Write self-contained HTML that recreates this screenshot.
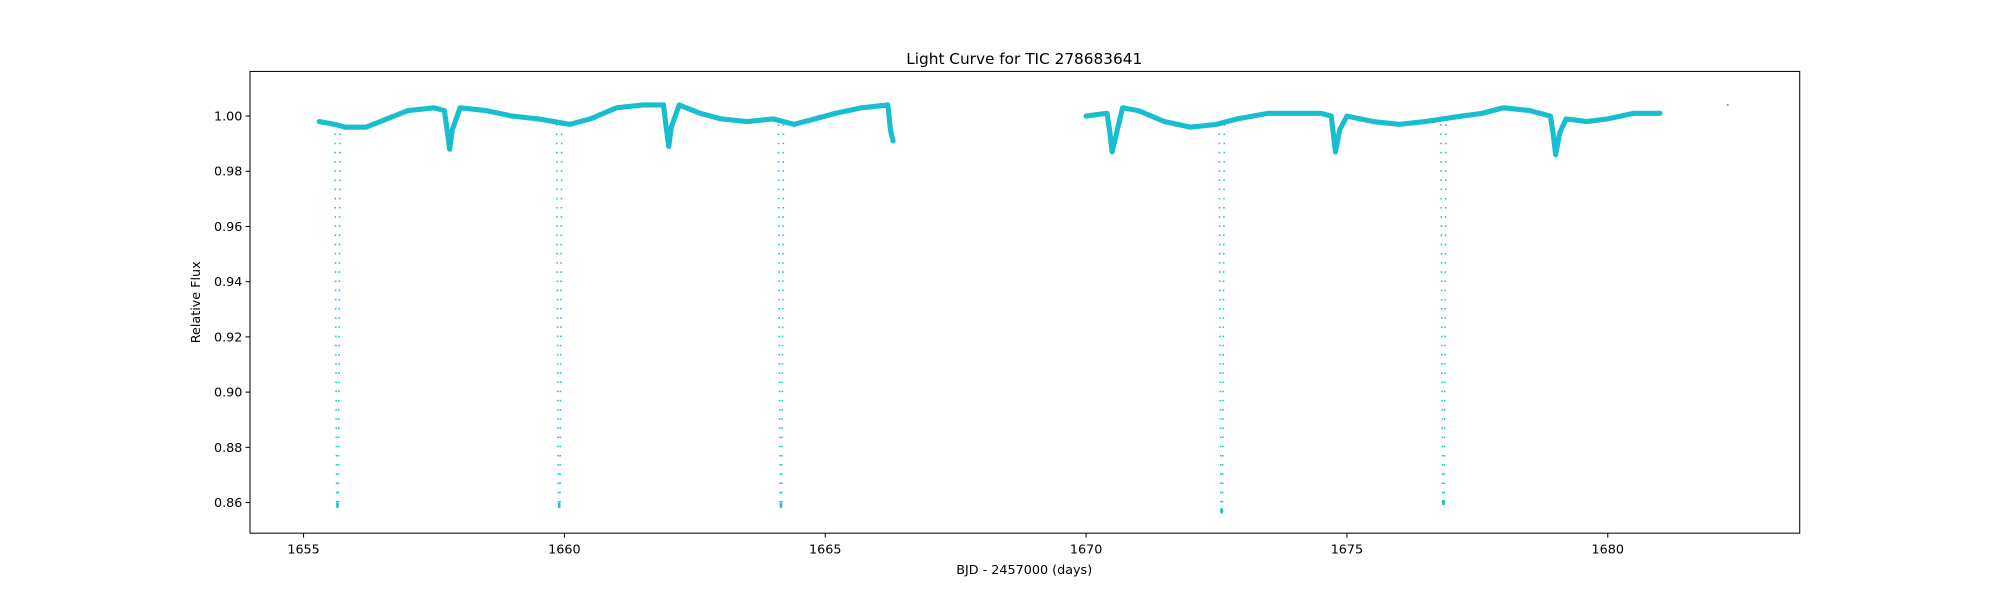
<!DOCTYPE html>
<html><head><meta charset="utf-8"><style>
body{margin:0;background:#fff;}
svg{display:block;font-family:"DejaVu Sans","Liberation Sans",sans-serif;}
</style></head><body>
<svg id="chart" width="2000" height="600">
<rect width="2000" height="600" fill="#fff"/>
<g transform="scale(1.2755)">
<text x="803" y="50" font-size="12" text-anchor="middle">Light Curve for TIC 278683641</text>
<g id="marks"></g>
<g id="axes"></g>
<text x="803" y="450" font-size="10" text-anchor="middle">BJD - 2457000 (days)</text>
<text x="157" y="237" font-size="10" text-anchor="middle" transform="rotate(-90 157 237)">Relative Flux</text>
</g>
</svg>
<script>
const seg1Times=[1655.3,1655.6,1655.8,1656.2,1656.6,1657.0,1657.5,1657.7,1657.75,1657.8,1657.85,1658.0,1658.5,1659.0,1659.5,1659.8,1660.1,1660.5,1661.0,1661.5,1661.9,1661.95,1662.0,1662.05,1662.2,1662.6,1663.0,1663.5,1664.0,1664.4,1664.8,1665.2,1665.7,1666.2,1666.25,1666.3];
const seg1Flux=[0.998,0.997,0.996,0.996,0.999,1.002,1.003,1.002,0.995,0.988,0.995,1.003,1.002,1.000,0.999,0.998,0.997,0.999,1.003,1.004,1.004,0.996,0.989,0.996,1.004,1.001,0.999,0.998,0.999,0.997,0.999,1.001,1.003,1.004,0.995,0.991];
const seg2Times=[1670.0,1670.4,1670.45,1670.5,1670.6,1670.7,1671.0,1671.5,1672.0,1672.5,1672.9,1673.5,1674.0,1674.5,1674.7,1674.78,1674.86,1675.0,1675.5,1676.0,1676.5,1677.2,1677.6,1678.0,1678.5,1678.9,1678.95,1679.0,1679.08,1679.2,1679.6,1680.0,1680.5,1681.0];
const seg2Flux=[1.000,1.001,0.995,0.987,0.995,1.003,1.002,0.998,0.996,0.997,0.999,1.001,1.001,1.001,1.000,0.987,0.995,1.000,0.998,0.997,0.998,1.000,1.001,1.003,1.002,1.000,0.994,0.986,0.994,0.999,0.998,0.999,1.001,1.001];
const primaryTimes=[1655.65,1659.9,1664.15,1672.6,1676.85];
const primaryDepths=[0.859,0.859,0.859,0.857,0.860];
const outlierTimes=[1682.3];
const outlierFlux=[1.004];
const xTicks=[1655,1660,1665,1670,1675,1680];
const yTicks=[0.86,0.88,0.90,0.92,0.94,0.96,0.98,1.00];

const L=196,R=1411,T=56,B=418;
const xs=t=>238+(t-1655)*40.9;
const ys=f=>91+(1.0-f)*(303/0.14);
const NS="http://www.w3.org/2000/svg";
const marks=document.getElementById('marks');
const axes=document.getElementById('axes');
const C="#17becf";
function mk(tag,attrs,parent){const e=document.createElementNS(NS,tag);for(const k in attrs)e.setAttribute(k,attrs[k]);parent.appendChild(e);return e;}

function band(times,flux,name){
  const pts=times.map((t,i)=>xs(t).toFixed(1)+","+ys(flux[i]).toFixed(1)).join(" ");
  const p=mk('polyline',{points:pts,fill:'none',stroke:C,'stroke-width':4,'stroke-linejoin':'round','stroke-linecap':'round'},marks);
  
  
}
band(seg1Times,seg1Flux,'flux-segment-1');
band(seg2Times,seg2Flux,'flux-segment-2');

primaryTimes.forEach((t,i)=>{
  const d=primaryDepths[i];
  const g=mk('g',{},marks);
  
  
  [-0.05,0.05].forEach(o=>{
    mk('line',{x1:xs(t+o),y1:ys(0.997),x2:xs(t+o*0.3),y2:ys(d)+2,stroke:C,'stroke-width':1.2,'stroke-dasharray':'1.2 6'},g);
  });
  mk('line',{x1:xs(t)-1,y1:ys(d),x2:xs(t)+1,y2:ys(d),stroke:C,'stroke-width':4},g);
});
outlierTimes.forEach((t,i)=>{
  const c=mk('circle',{cx:xs(t),cy:ys(outlierFlux[i]),r:0.8,fill:C},marks);
  
  
});

const fr=mk('rect',{x:L,y:T,width:R-L,height:B-T,fill:'none',stroke:'#000','stroke-width':0.8},axes);


xTicks.forEach(v=>{
  const x=xs(v);
  mk('line',{x1:x,y1:B,x2:x,y2:B+3.5,stroke:'#000','stroke-width':0.8},axes);
  const tx=mk('text',{x:x,y:B+16,'font-size':10,'text-anchor':'middle'},axes);
  tx.textContent=v;
  
  
});
yTicks.forEach(v=>{
  const y=ys(v);
  mk('line',{x1:L-3.5,y1:y,x2:L,y2:y,stroke:'#000','stroke-width':0.8},axes);
  const tx=mk('text',{x:L-6,y:y+3.5,'font-size':10,'text-anchor':'end'},axes);
  tx.textContent=v.toFixed(2);
  
  
});
</script>
</body></html>
